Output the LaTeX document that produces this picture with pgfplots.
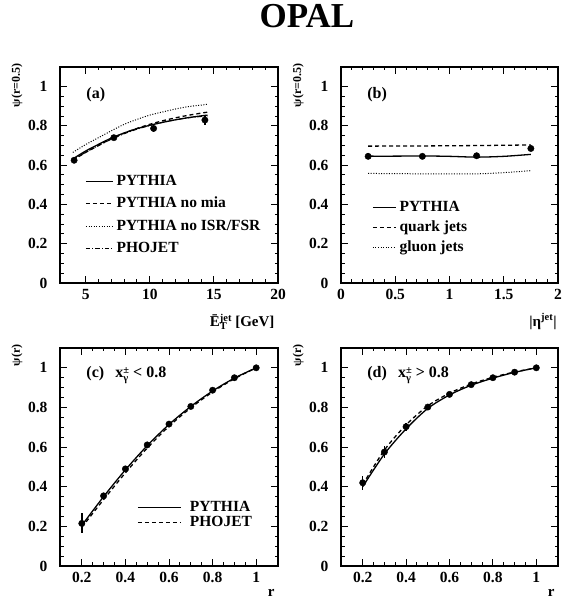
\documentclass[border=0pt]{standalone}
\usepackage{fontspec}
\setmainfont{Liberation Serif}
\usepackage{pgfplots}
\pgfplotsset{compat=1.18}
\newcommand{\fs}[1]{\fontsize{#1}{#1}\selectfont\bfseries}
\newcommand{\supsub}[3]{\raisebox{#3}{\fontsize{10.5}{10.5}\selectfont\bfseries\begin{tabular}[b]{@{}l@{}}#1\\[-2.5pt]#2\end{tabular}}}
\tikzset{
  dashR/.style={dash pattern=on 4pt off 3pt},
  dotR/.style={dash pattern=on 1pt off 1.6pt},
  dashdotR/.style={dash pattern=on 4.5pt off 2pt on 1pt off 2pt},
}
\pgfplotsset{
  opal/.style={
    scale only axis, width=218pt, height=216pt, ymin=0, ymax=1.1,
    axis line style={line width=1.2pt},
    every tick/.style={line width=1pt, black},
    tick align=inside, xtick pos=both, ytick pos=both,
    xticklabel pos=lower, yticklabel pos=left,
    major tick length=7pt, minor tick length=3.5pt,
    ytick={0,0.2,0.4,0.6,0.8,1}, minor y tick num=3,
    tick label style={font=\fs{15.5}},
    xticklabel style={yshift=-3pt},
    yticklabel style={xshift=-9pt},
    /pgf/number format/assume math mode=true,
    ylabel style={at={(rel axis cs:-0.197,1.032)}, anchor=east, font=\fs{12}},
    xlabel style={at={(rel axis cs:1,-0.2)}, anchor=base east, font=\fs{15}},
    legend cell align=left,
  },
  curve/.style={black, line width=1.3pt, smooth},
  datapts/.style={only marks, black, mark=*, mark size=3.2pt, forget plot,
    error bars/.cd, y dir=both, y explicit, error mark=none,
    error bar style={line width=1.4pt}},
}
\begin{document}
\begin{tikzpicture}
\path[use as bounding box] (0,0) rectangle (563pt,599pt);
\node[font=\fs{35}, anchor=base] at (307pt,571pt) {OPAL};

% (a)
\begin{axis}[opal, at={(60pt,316pt)}, anchor=south west,
  xmin=3, xmax=20, xtick={5,10,15,20}, minor x tick num=4,
  ylabel={ψ(r=0.5)},
  xlabel={Ē\supsub{jet}{T}{-3.5pt} [GeV]},
  legend image code/.code={\draw[#1] (0pt,0pt) -- (27pt,0pt);},
  legend style={draw=none, fill=none, at={(rel axis cs:0.115,0.509)}, anchor=north west,
    inner sep=0pt, row sep=6.5pt, column sep=2pt,
    nodes={inner sep=1pt, text height=11pt, text depth=3pt, font=\fs{15.5}}},
]
\addplot[curve] coordinates {(4,0.632) (5,0.672) (6,0.706) (7,0.738) (8,0.764) (9,0.786) (10,0.803) (11,0.818) (12,0.831) (13,0.842) (14,0.851) (14.5,0.855)};
\addlegendentry{PYTHIA}
\addplot[curve, dashR] coordinates {(4,0.625) (5,0.665) (6,0.700) (7,0.735) (8,0.763) (9,0.787) (10,0.808) (11,0.826) (12,0.841) (13,0.854) (14,0.865) (14.5,0.870)};
\addlegendentry{PYTHIA no mia}
\addplot[curve, dotR, line width=1pt] coordinates {(4,0.665) (5,0.705) (6,0.740) (7,0.775) (8,0.808) (9,0.833) (10,0.855) (11,0.871) (12,0.886) (13,0.898) (14,0.906) (14.5,0.910)};
\addlegendentry{PYTHIA no ISR/FSR}
\addplot[curve, dashdotR, line width=1pt] coordinates {(4,0.628) (5,0.665) (6,0.700) (7,0.732) (8,0.760) (9,0.783) (10,0.802) (11,0.818) (12,0.831) (13,0.841) (14,0.848) (14.5,0.850)};
\addlegendentry{PHOJET}
\addplot[datapts] table[y error=e] {
x y e
4.1 0.625 0.010
7.2 0.740 0.012
10.3 0.787 0.020
14.3 0.830 0.025
};
\node[font=\fs{16}, anchor=west] at (rel axis cs:0.105,0.87) {(a)};
\end{axis}

% (b)
\begin{axis}[opal, at={(341pt,316pt)}, anchor=south west, width=217pt,
  xmin=0, xmax=2, xtick={0,0.5,1,1.5,2}, minor x tick num=4,
  ylabel={ψ(r=0.5)},
  xlabel={|η\textsuperscript{jet}|},
  xlabel style={at={(rel axis cs:1.01,-0.2)}},
  legend image code/.code={\draw[#1] (0pt,0pt) -- (23pt,0pt);},
  legend style={draw=none, fill=none, at={(rel axis cs:0.143,0.389)}, anchor=north west,
    inner sep=0pt, row sep=4pt, column sep=2pt,
    nodes={inner sep=1pt, text height=11pt, text depth=3pt, font=\fs{15.5}}},
]
\addplot[curve] coordinates {(0.25,0.646) (0.5,0.646) (0.75,0.647) (1.0,0.645) (1.25,0.641) (1.5,0.645) (1.75,0.655)};
\addlegendentry{PYTHIA}
\addplot[curve, dashR] coordinates {(0.25,0.697) (0.75,0.698) (1.25,0.700) (1.75,0.703)};
\addlegendentry{quark jets}
\addplot[curve, dotR, line width=1pt] coordinates {(0.25,0.558) (0.75,0.556) (1.25,0.556) (1.5,0.562) (1.75,0.572)};
\addlegendentry{gluon jets}
\addplot[datapts] table[y error=e] {
x y e
0.25 0.645 0.015
0.75 0.645 0.012
1.25 0.648 0.010
1.75 0.685 0.010
};
\node[font=\fs{16}, anchor=west] at (rel axis cs:0.105,0.87) {(b)};
\end{axis}

% (c)
\begin{axis}[opal, at={(60pt,33pt)}, anchor=south west, height=218pt,
  xmin=0.1, xmax=1.1, xtick={0.2,0.4,0.6,0.8,1}, minor x tick num=3,
  ylabel={ψ(r)},
  xlabel={r},
  xlabel style={at={(rel axis cs:1,-0.138)}},
  legend image code/.code={\draw[#1] (0pt,0pt) -- (43pt,0pt);},
  legend style={draw=none, fill=none, at={(rel axis cs:0.353,0.303)}, anchor=north west,
    inner sep=0pt, row sep=0pt, column sep=8pt,
    nodes={inner sep=0.5pt, text height=11pt, text depth=3pt, font=\fs{15.5}}},
]
\addplot[curve] coordinates {(0.2,0.205) (0.3,0.350) (0.4,0.485) (0.5,0.607) (0.6,0.714) (0.7,0.805) (0.8,0.883) (0.9,0.948) (1,1)};
\addlegendentry{PYTHIA}
\addplot[curve, dashR] coordinates {(0.2,0.195) (0.3,0.335) (0.4,0.470) (0.5,0.595) (0.6,0.705) (0.7,0.798) (0.8,0.878) (0.9,0.945) (1,1)};
\addlegendentry{PHOJET}
\addplot[datapts] table[y error=e] {
x y e
0.2 0.215 0.050
0.3 0.354 0.012
0.4 0.490 0.012
0.5 0.611 0.008
0.6 0.716 0.006
0.7 0.805 0.005
0.8 0.887 0.004
0.9 0.950 0.003
1.0 1.000 0.000
};
\node[font=\fs{16}, anchor=west] at (rel axis cs:0.105,0.876) {(c)\hspace{0.7em}x\supsub{±}{γ}{-4pt} < 0.8};
\end{axis}

% (d)
\begin{axis}[opal, at={(341pt,33pt)}, anchor=south west, width=217pt, height=218pt,
  xmin=0.1, xmax=1.1, xtick={0.2,0.4,0.6,0.8,1}, minor x tick num=3,
  ylabel={ψ(r)},
  xlabel={r},
  xlabel style={at={(rel axis cs:1,-0.138)}},
]
\addplot[curve] coordinates {(0.2,0.400) (0.3,0.565) (0.4,0.692) (0.5,0.795) (0.6,0.863) (0.7,0.912) (0.8,0.948) (0.9,0.977) (1,1)};
\addplot[curve, dashR] coordinates {(0.2,0.410) (0.3,0.585) (0.4,0.712) (0.5,0.808) (0.6,0.872) (0.7,0.918) (0.8,0.952) (0.9,0.979) (1,1)};
\addplot[datapts] table[y error=e] {
x y e
0.2 0.420 0.035
0.3 0.575 0.030
0.4 0.703 0.020
0.5 0.802 0.010
0.6 0.866 0.006
0.7 0.915 0.005
0.8 0.950 0.004
0.9 0.978 0.003
1.0 1.000 0.000
};
\node[font=\fs{16}, anchor=west] at (rel axis cs:0.105,0.876) {(d)\hspace{0.7em}x\supsub{±}{γ}{-4pt} > 0.8};
\end{axis}
\end{tikzpicture}
\end{document}
